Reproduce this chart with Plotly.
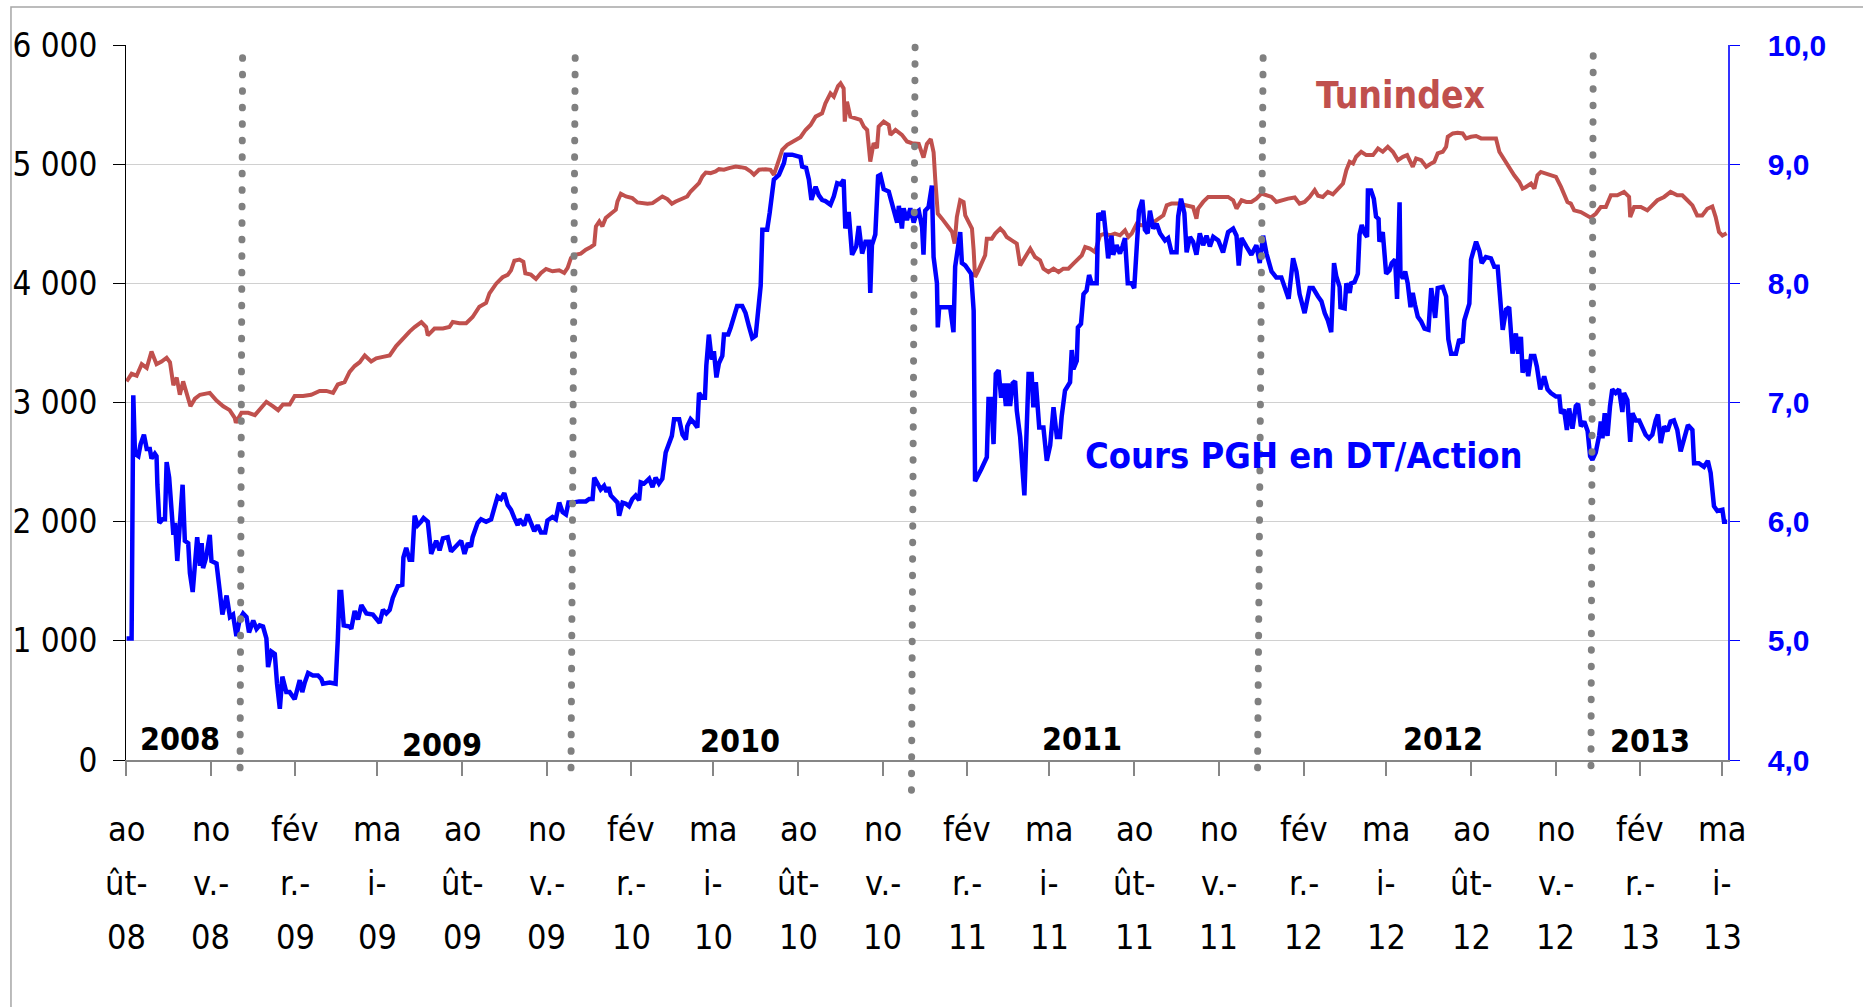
import pandas as pd
import plotly.graph_objects as go

# ---------------- data (x = months elapsed since 1 Aug 2008) ----------------
TUN_M = [0.02, 0.20, 0.38, 0.56, 0.74, 0.91, 1.09, 1.27, 1.45, 1.57, 1.69, 1.81, 1.92, 2.04, 2.16, 2.30,
         2.46, 2.64, 2.99, 3.23, 3.47, 3.70, 3.88, 3.92, 4.12, 4.36, 4.60, 4.83, 5.01, 5.25, 5.43, 5.60,
         5.84, 6.02, 6.32, 6.61, 6.91, 7.15, 7.39, 7.56, 7.80, 7.98, 8.16, 8.34, 8.52, 8.75, 8.93, 9.17,
         9.41, 9.64, 9.88, 10.12, 10.30, 10.54, 10.71, 10.77, 11.01, 11.31, 11.54, 11.66, 11.90, 12.14,
         12.37, 12.61, 12.85, 12.97, 13.21, 13.44, 13.62, 13.74, 13.86, 14.04, 14.18, 14.25, 14.45, 14.63,
         14.81, 14.99, 15.22, 15.46, 15.64, 15.76, 15.88, 16.06, 16.23, 16.41, 16.59, 16.71, 16.77, 16.89,
         17.00, 17.12, 17.30, 17.48, 17.54, 17.66, 17.84, 18.07, 18.25, 18.43, 18.61, 18.79, 18.96, 19.14,
         19.32, 19.48, 19.62, 19.86, 20.03, 20.15, 20.27, 20.45, 20.57, 20.69, 20.86, 21.04, 21.16, 21.34,
         21.52, 21.76, 21.93, 22.11, 22.29, 22.41, 22.59, 22.83, 23.00, 23.12, 23.30, 23.42, 23.60, 23.72,
         23.89, 24.07, 24.25, 24.43, 24.61, 24.84, 24.96, 25.14, 25.26, 25.41, 25.50, 25.61, 25.65, 25.73,
         25.85, 26.03, 26.21, 26.33, 26.45, 26.56, 26.68, 26.80, 26.86, 27.04, 27.22, 27.28, 27.46, 27.69,
         27.87, 28.05, 28.29, 28.46, 28.58, 28.72, 28.82, 28.88, 28.97, 29.12, 29.30, 29.48, 29.57, 29.65,
         29.77, 29.89, 29.95, 30.07, 30.19, 30.25, 30.30, 30.42, 30.54, 30.66, 30.72, 30.90, 31.02, 31.20,
         31.32, 31.43, 31.61, 31.79, 31.91, 32.09, 32.27, 32.44, 32.62, 32.74, 32.92, 33.10, 33.28, 33.45,
         33.63, 33.81, 33.99, 34.11, 34.23, 34.40, 34.58, 34.76, 34.94, 35.12, 35.29, 35.47, 35.65, 35.77,
         35.89, 36.07, 36.24, 36.48, 36.60, 36.78, 36.90, 37.02, 37.14, 37.31, 37.55, 37.79, 37.96, 38.08,
         38.20, 38.26, 38.44, 38.62, 38.86, 39.09, 39.33, 39.51, 39.63, 39.81, 39.98, 40.16, 40.34, 40.52,
         40.70, 40.88, 41.05, 41.23, 41.47, 41.71, 41.88, 42.06, 42.24, 42.42, 42.54, 42.71, 42.89, 43.07,
         43.25, 43.43, 43.55, 43.67, 43.79, 43.90, 44.08, 44.26, 44.50, 44.68, 44.85, 45.03, 45.21, 45.39,
         45.57, 45.72, 45.92, 46.04, 46.22, 46.40, 46.58, 46.69, 46.81, 46.99, 47.11, 47.17, 47.35, 47.52,
         47.70, 47.82, 48.00, 48.18, 48.36, 48.59, 48.89, 49.01, 49.19, 49.36, 49.54, 49.72, 49.84, 49.96,
         50.14, 50.26, 50.37, 50.49, 50.67, 50.85, 51.03, 51.21, 51.32, 51.44, 51.56, 51.68, 51.92, 52.16,
         52.27, 52.45, 52.63, 52.81, 52.99, 53.22, 53.46, 53.64, 53.68, 53.82, 54.06, 54.29, 54.47, 54.65,
         54.89, 55.12, 55.36, 55.54, 55.72, 55.90, 56.07, 56.25, 56.43, 56.61, 56.73, 56.85, 56.97, 57.12]
TUN_V = [3177, 3241, 3225, 3322, 3290, 3428, 3322, 3344, 3376, 3338, 3145, 3209, 3065, 3177, 3081, 2968,
         3032, 3065, 3081, 3016, 2968, 2936, 2871, 2830, 2913, 2913, 2894, 2952, 3006, 2968, 2936, 2984,
         2984, 3055, 3055, 3065, 3097, 3097, 3081, 3151, 3171, 3257, 3306, 3338, 3395, 3344, 3370, 3383,
         3395, 3473, 3537, 3595, 3633, 3675, 3633, 3563, 3621, 3621, 3633, 3675, 3665, 3665,
         3717, 3804, 3836, 3916, 3997, 4051, 4071, 4109, 4190, 4199, 4180, 4084, 4073, 4037,
         4087, 4121, 4101, 4110, 4087, 4129, 4213, 4241, 4249, 4283, 4305, 4325, 4478, 4520,
         4478, 4548, 4584, 4618, 4687, 4752, 4729, 4715, 4679, 4673, 4668, 4673, 4696, 4729,
         4707, 4668, 4687, 4707, 4729, 4771, 4799, 4841, 4897, 4930, 4925, 4939, 4958, 4953,
         4967, 4980, 4975, 4967, 4939, 4911, 4953, 4958, 4953, 4911, 5036, 5120, 5162, 5176,
         5204, 5226, 5287, 5329, 5399, 5427, 5511, 5595, 5567, 5656, 5678, 5636, 5357, 5525,
         5399, 5385, 5371, 5315, 5287, 5022, 5176, 5134, 5315, 5357, 5329, 5246, 5287, 5246,
         5190, 5176, 5170, 5055, 5170, 5210, 5100, 4870, 4585, 4543, 4487, 4431, 4333, 4557,
         4697, 4683, 4571, 4515, 4459, 4277, 4053, 4109, 4165, 4235, 4375, 4375, 4417, 4459,
         4431, 4389, 4361, 4333, 4151, 4221, 4291, 4221, 4193, 4123, 4095, 4123, 4095, 4123,
         4123, 4165, 4207, 4235, 4305, 4291, 4263, 4403, 4417, 4403, 4417, 4403, 4445, 4389,
         4417, 4501, 4487, 4487, 4501, 4529, 4543, 4571, 4655, 4669, 4669, 4655, 4641, 4641,
         4543, 4627, 4683, 4725, 4725, 4725, 4725, 4697, 4627, 4697, 4683, 4683, 4711, 4753,
         4739, 4725, 4683, 4697, 4711, 4720, 4669, 4683, 4725, 4782, 4735, 4725, 4767, 4747,
         4795, 4837, 4949, 5020, 5006, 5062, 5104, 5076, 5076, 5132, 5104, 5146, 5104, 5034,
         5062, 5076, 4978, 5048, 5034, 4978, 5006, 5020, 5090, 5104, 5146, 5230, 5258, 5264,
         5258, 5216, 5230, 5236, 5216, 5216, 5216, 5104, 5034, 4978, 4907, 4851, 4795, 4809,
         4837, 4795, 4907, 4935, 4921, 4907, 4893, 4809, 4753, 4683, 4669, 4612, 4598, 4570,
         4551, 4584, 4640, 4640, 4739, 4739, 4767, 4725, 4556, 4640, 4640, 4612, 4654, 4697,
         4725, 4767, 4739, 4739, 4697, 4654, 4570, 4570, 4626, 4645, 4556, 4430, 4402, 4421]

PGH_M = [0.02, 0.20, 0.26, 0.32, 0.44, 0.52, 0.64, 0.74, 0.85, 0.91, 1.03, 1.09, 1.12, 1.19, 1.31, 1.39,
         1.45, 1.54, 1.69, 1.75, 1.83, 1.92, 2.02, 2.10, 2.22, 2.28, 2.38, 2.54, 2.64, 2.70, 2.75, 2.85,
         2.99, 3.05, 3.23, 3.35, 3.44, 3.59, 3.71, 3.82, 3.94, 4.06, 4.18, 4.30, 4.39, 4.54, 4.66, 4.77,
         4.89, 5.01, 5.07, 5.19, 5.31, 5.39, 5.49, 5.58, 5.72, 5.84, 6.02, 6.20, 6.29, 6.38, 6.50, 6.67,
         6.85, 6.97, 7.03, 7.27, 7.48, 7.56, 7.62, 7.68, 7.77, 7.98, 8.04, 8.16, 8.28, 8.40, 8.58, 8.81,
         9.05, 9.17, 9.29, 9.41, 9.52, 9.70, 9.86, 9.90, 10.00, 10.12, 10.21, 10.30, 10.41, 10.53, 10.62,
         10.77, 10.89, 11.07, 11.19, 11.31, 11.48, 11.60, 11.78, 11.96, 12.08, 12.20, 12.31, 12.37, 12.55,
         12.67, 12.85, 13.03, 13.15, 13.26, 13.38, 13.50, 13.62, 13.74, 13.86, 13.98, 14.04, 14.21, 14.33,
         14.45, 14.57, 14.69, 14.81, 14.96, 15.04, 15.22, 15.34, 15.46, 15.58, 15.70, 15.79, 15.94, 16.17,
         16.41, 16.53, 16.65, 16.71, 16.83, 16.94, 17.06, 17.15, 17.22, 17.30, 17.42, 17.54, 17.60, 17.72,
         17.84, 17.95, 18.07, 18.19, 18.31, 18.37, 18.49, 18.67, 18.79, 18.90, 19.02, 19.14, 19.26, 19.38,
         19.48, 19.56, 19.74, 19.86, 19.98, 20.03, 20.15, 20.27, 20.39, 20.45, 20.57, 20.66, 20.71, 20.80,
         20.90, 20.98, 21.07, 21.16, 21.28, 21.34, 21.49, 21.58, 21.70, 21.81, 21.99, 22.11, 22.23, 22.35,
         22.47, 22.56, 22.65, 22.71, 22.88, 22.97, 23.12, 23.30, 23.48, 23.54, 23.77, 24.07, 24.13, 24.27,
         24.37, 24.46, 24.61, 24.72, 24.84, 24.96, 25.14, 25.26, 25.38, 25.50, 25.61, 25.67, 25.79, 25.91,
         26.06, 26.15, 26.27, 26.39, 26.51, 26.56, 26.62, 26.74, 26.84, 26.92, 27.04, 27.22, 27.34, 27.52,
         27.58, 27.69, 27.75, 27.87, 27.99, 28.11, 28.23, 28.29, 28.41, 28.46, 28.52, 28.64, 28.76, 28.82,
         28.94, 28.97, 29.02, 29.41, 29.53, 29.59, 29.77, 29.83, 29.95, 30.07, 30.16, 30.25, 30.27, 30.30,
         30.52, 30.72, 30.78, 30.88, 30.96, 31.04, 31.14, 31.23, 31.32, 31.40, 31.47, 31.55, 31.64, 31.73,
         31.79, 31.91, 32.06, 32.21, 32.32, 32.38, 32.47, 32.59, 32.74, 32.86, 32.98, 33.10, 33.22, 33.33,
         33.39, 33.51, 33.69, 33.75, 33.81, 33.93, 33.97, 34.08, 34.17, 34.28, 34.37, 34.46, 34.64, 34.70,
         34.82, 34.88, 34.99, 35.05, 35.17, 35.23, 35.35, 35.47, 35.56, 35.65, 35.75, 35.89, 35.98, 36.07,
         36.15, 36.27, 36.36, 36.46, 36.54, 36.66, 36.78, 36.90, 37.08, 37.19, 37.31, 37.49, 37.55, 37.65,
         37.77, 37.85, 37.97, 38.08, 38.20, 38.32, 38.44, 38.56, 38.68, 38.80, 38.98, 39.15, 39.33, 39.51,
         39.63, 39.71, 39.81, 39.98, 40.16, 40.34, 40.46, 40.58, 40.70, 40.88, 41.05, 41.23, 41.35, 41.49,
         41.65, 41.77, 41.88, 42.06, 42.24, 42.36, 42.54, 42.66, 42.78, 42.89, 43.01, 43.11, 43.19, 43.31,
         43.34, 43.49, 43.55, 43.67, 43.72, 43.84, 43.96, 44.02, 44.10, 44.20, 44.29, 44.32, 44.43, 44.53,
         44.61, 44.70, 44.73, 44.85, 44.97, 45.09, 45.17, 45.29, 45.36, 45.45, 45.48, 45.57, 45.65, 45.74,
         45.84, 45.92, 46.00, 46.10, 46.22, 46.34, 46.48, 46.58, 46.72, 46.81, 46.99, 47.11, 47.19, 47.29,
         47.46, 47.58, 47.70, 47.76, 47.94, 48.00, 48.18, 48.30, 48.38, 48.53, 48.71, 48.83, 48.95, 49.01,
         49.07, 49.13, 49.25, 49.36, 49.48, 49.60, 49.68, 49.78, 49.84, 49.96, 50.04, 50.14, 50.26, 50.35,
         50.47, 50.61, 50.73, 50.85, 51.03, 51.15, 51.21, 51.32, 51.42, 51.50, 51.62, 51.74, 51.82, 51.92,
         52.04, 52.16, 52.25, 52.33, 52.45, 52.57, 52.63, 52.69, 52.77, 52.87, 52.96, 53.04, 53.16, 53.28,
         53.40, 53.46, 53.58, 53.68, 53.76, 53.88, 54.00, 54.12, 54.23, 54.35, 54.47, 54.59, 54.67, 54.77,
         54.89, 55.01, 55.12, 55.24, 55.36, 55.48, 55.60, 55.74, 55.90, 55.96, 56.13, 56.31, 56.45, 56.55,
         56.67, 56.79, 56.97, 57.03, 57.14]
PGH_V = [5.02, 5.02, 7.06, 6.57, 6.55, 6.65, 6.73, 6.61, 6.61, 6.53, 6.57, 6.55, 6.31, 5.99, 6.02, 6.02,
         6.50, 6.37, 5.89, 5.99, 5.67, 5.99, 6.31, 5.84, 5.82, 5.57, 5.41, 5.87, 5.63, 5.82, 5.61, 5.69,
         5.89, 5.67, 5.65, 5.41, 5.22, 5.38, 5.20, 5.22, 5.04, 5.18, 5.23, 5.20, 5.07, 5.17, 5.10, 5.13,
         5.12, 5.02, 4.78, 4.91, 4.89, 4.64, 4.43, 4.70, 4.57, 4.57, 4.51, 4.67, 4.57, 4.65, 4.73, 4.71,
         4.71, 4.68, 4.64, 4.65, 4.64, 5.02, 5.41, 5.41, 5.13, 5.12, 5.10, 5.25, 5.18, 5.30, 5.23, 5.22,
         5.15, 5.26, 5.23, 5.26, 5.36, 5.46, 5.47, 5.70, 5.78, 5.68, 5.68, 6.05, 5.97, 6.00, 6.03,
         6.00, 5.73, 5.84, 5.76, 5.86, 5.87, 5.75, 5.80, 5.84, 5.73, 5.82, 5.79, 5.87, 5.99,
         6.02, 6.00, 6.02, 6.12, 6.21, 6.19, 6.24, 6.14, 6.10, 6.03, 5.97, 6.02, 5.97, 6.06,
         5.99, 5.92, 5.97, 5.91, 5.91, 6.01, 6.04, 6.02, 6.16, 6.08, 6.06, 6.16, 6.16, 6.17,
         6.17, 6.19, 6.19, 6.37, 6.32, 6.27, 6.30, 6.25, 6.29, 6.22, 6.19, 6.16, 6.05, 6.16,
         6.15, 6.13, 6.19, 6.22, 6.18, 6.33, 6.32, 6.36, 6.29, 6.37, 6.32, 6.36, 6.58, 6.66,
         6.72, 6.86, 6.86, 6.73, 6.69, 6.80, 6.86, 6.83, 6.79, 7.08, 7.04, 7.04, 7.31, 7.57,
         7.36, 7.43, 7.21, 7.33, 7.39, 7.57, 7.57, 7.63, 7.72, 7.81, 7.81, 7.75, 7.64, 7.54,
         7.56, 7.75, 7.98, 8.45, 8.45, 8.59, 8.87, 8.91, 9.01, 9.08, 9.08, 9.06, 8.98, 8.97,
         8.87, 8.70, 8.81, 8.74, 8.70, 8.69, 8.66, 8.73, 8.84, 8.83, 8.87, 8.46, 8.60, 8.24,
         8.31, 8.48, 8.25, 8.35, 8.35, 7.92, 8.32, 8.41, 8.90, 8.91, 8.79, 8.77, 8.65, 8.51,
         8.65, 8.46, 8.63, 8.53, 8.63, 8.51, 8.60, 8.61, 8.47, 8.24, 8.61, 8.64, 8.82, 8.22,
         8.00, 7.63, 7.80, 7.80, 7.59, 8.14, 8.43, 8.17, 8.15, 8.11, 8.08, 7.77, 7.38, 6.34,
         6.44, 6.54, 7.03, 7.03, 6.65, 7.24, 7.27, 7.04, 7.16, 6.97, 7.16, 6.97, 7.16, 7.18,
         6.93, 6.71, 6.22, 7.24, 7.24, 6.96, 7.17, 6.79, 6.79, 6.51, 6.64, 6.96, 6.71, 6.71,
         6.88, 7.10, 7.17, 7.44, 7.28, 7.35, 7.63, 7.66, 7.91, 7.94, 8.07, 8.00, 8.00, 8.59,
         8.53, 8.61, 8.36, 8.21, 8.40, 8.24, 8.32, 8.25, 8.31, 8.38, 8.00, 8.00, 7.96, 8.25,
         8.61, 8.70, 8.45, 8.42, 8.61, 8.46, 8.50, 8.42, 8.36, 8.38, 8.26, 8.26, 8.56, 8.71,
         8.59, 8.26, 8.39, 8.35, 8.24, 8.42, 8.32, 8.40, 8.31, 8.39, 8.36, 8.26, 8.43, 8.46,
         8.40, 8.15, 8.38, 8.31, 8.24, 8.32, 8.17, 8.40, 8.25, 8.10, 8.05, 8.05, 7.96, 7.87,
         8.21, 8.10, 7.91, 7.75, 7.96, 7.96, 7.89, 7.85, 7.75, 7.69, 7.59, 8.17, 8.06, 7.97,
         7.80, 7.79, 8.00, 7.92, 8.00, 8.01, 8.08, 8.41, 8.49, 8.42, 8.39, 8.78, 8.78, 8.71,
         8.56, 8.54, 8.35, 8.43, 8.08, 8.11, 8.17, 8.20, 7.87, 8.68, 8.08, 8.04, 8.10, 8.00,
         7.80, 7.92, 7.82, 7.72, 7.68, 7.62, 7.61, 7.96, 7.71, 7.96, 7.97, 7.89, 7.53, 7.41,
         7.41, 7.53, 7.50, 7.69, 7.83, 8.20, 8.35, 8.27, 8.17, 8.22, 8.21, 8.14, 8.14, 7.92,
         7.72, 7.61, 7.78, 7.80, 7.41, 7.58, 7.41, 7.55, 7.25, 7.36, 7.22, 7.39, 7.39, 7.30,
         7.11, 7.22, 7.11, 7.08, 7.05, 7.05, 6.91, 6.94, 6.77, 6.95, 6.78, 6.97, 6.99, 6.80,
         6.84, 6.76, 6.55, 6.52, 6.58, 6.72, 6.84, 6.70, 6.91, 6.72, 6.97, 7.11, 7.08, 7.11,
         6.92, 7.08, 7.02, 6.67, 6.91, 6.85, 6.85, 6.78, 6.73, 6.70, 6.73, 6.85, 6.90, 6.66,
         6.80, 6.76, 6.84, 6.85, 6.77, 6.59, 6.69, 6.81, 6.77, 6.49, 6.49, 6.46, 6.51, 6.41,
         6.13, 6.09, 6.10, 6.00, 6.00]

TICK_DATES = ["2008-08-01", "2008-11-01", "2009-02-01", "2009-05-01", "2009-08-01", "2009-11-01",
              "2010-02-01", "2010-05-01", "2010-08-01", "2010-11-01", "2011-02-01", "2011-05-01",
              "2011-08-01", "2011-11-01", "2012-02-01", "2012-05-01", "2012-08-01", "2012-11-01",
              "2013-02-01", "2013-05-01"]
TICK_TEXT = ["août-08", "nov.-08", "févr.-09", "mai-09", "août-09", "nov.-09", "févr.-10", "mai-10",
             "août-10", "nov.-10", "févr.-11", "mai-11", "août-11", "nov.-11", "févr.-12", "mai-12",
             "août-12", "nov.-12", "févr.-13", "mai-13"]
# how the narrow Excel column wraps each label
WRAP = {"août": ("ao", "ût-"), "nov.": ("no", "v.-"), "févr.": ("fév", "r.-"), "mai": ("ma", "i-")}

YEAR_TEXT = ["2008", "2009", "2010", "2011", "2012", "2013"]
YEAR_DATES = ["2008-09-29", "2009-07-10", "2010-05-30", "2011-06-05", "2012-07-01", "2013-02-11"]
YEAR_Y = [176, 126, 159, 176, 176, 159]

# year separators (months since Aug 2008, top / bottom of the hand-drawn dotted line)
SEP_TOP_M = [4.16, 16.03, 28.16, 40.58, 52.36]
SEP_BOT_M = [4.07, 15.88, 28.03, 40.38, 52.28]

LEFT_TICKS = [0, 1000, 2000, 3000, 4000, 5000, 6000]
RIGHT_TICKS = [4, 5, 6, 7, 8, 9, 10]

# ---------------- helpers ----------------
BASE = pd.Timestamp("2008-08-01")


def to_date(m):
    return BASE + pd.Timedelta(days=m * 30.437)


def to_dates(ms):
    return [to_date(m) for m in ms]


NARROW = "Liberation Sans Narrow, Arial Narrow, DejaVu Sans Condensed, sans-serif"
SANS = "Liberation Sans, Arial, sans-serif"
RED = "#C0504D"
BLUE = "#0000FF"

fig = go.Figure()
fig.add_trace(go.Scatter(x=to_dates(TUN_M), y=TUN_V, mode="lines", name="Tunindex",
                         line=dict(color=RED, width=4), yaxis="y"))
fig.add_trace(go.Scatter(x=to_dates(PGH_M), y=PGH_V, mode="lines", name="Cours PGH en DT/Action",
                         line=dict(color=BLUE, width=4.5), yaxis="y2"))

shapes = []
# outer chart frame
shapes.append(dict(type="rect", xref="paper", yref="paper", x0=-0.0718, x1=1.3, y0=-0.6, y1=1.053,
                   line=dict(color="#A6A6A6", width=1.5), fillcolor="rgba(0,0,0,0)", layer="below"))
sep_top = [0.982, 0.982, 0.997, 0.982, 0.985]
sep_bot = [-0.02, -0.02, -0.05, -0.02, -0.015]
for mt, mb, yt, yb in zip(SEP_TOP_M, SEP_BOT_M, sep_top, sep_bot):
    shapes.append(dict(type="line", xref="x", yref="paper", x0=to_date(mt), x1=to_date(mb),
                       y0=yt, y1=yb, line=dict(color="#808080", width=7, dash="0.5px,16px")))

annotations = []
line_y = [-0.0965, -0.1720, -0.2476]
for d, t in zip(TICK_DATES, TICK_TEXT):
    month, yr = t.rsplit("-", 1)
    parts = list(WRAP[month]) + [yr]
    for j, p in enumerate(parts):
        annotations.append(dict(x=d, xref="x", y=line_y[j], yref="paper", text=p, showarrow=False,
                                xanchor="center", yanchor="middle",
                                font=dict(family=NARROW, size=34, color="black")))
for t, d, yv in zip(YEAR_TEXT, YEAR_DATES, YEAR_Y):
    annotations.append(dict(x=d, xref="x", y=yv, yref="y", text=t, showarrow=False,
                            xanchor="center", yanchor="middle",
                            font=dict(family=NARROW, size=32, color="black", weight="bold")))
annotations.append(dict(x="2012-05-16", xref="x", y=5580, yref="y", text="Tunindex", showarrow=False,
                        xanchor="center", yanchor="middle",
                        font=dict(family=NARROW, size=37, color=RED, weight="bold")))
annotations.append(dict(x="2012-02-02", xref="x", y=2559, yref="y", text="Cours PGH en DT/Action",
                        showarrow=False, xanchor="center", yanchor="middle",
                        font=dict(family=NARROW, size=36, color=BLUE, weight="bold")))

fig.update_layout(
    width=1863, height=1007, autosize=False,
    margin=dict(l=126, r=135, t=45, b=247, pad=0),
    paper_bgcolor="white", plot_bgcolor="white",
    separators=", ",
    showlegend=False,
    shapes=shapes,
    annotations=annotations,
    xaxis=dict(type="date", range=[to_date(0), to_date(57.17)], tickvals=TICK_DATES,
               showticklabels=False, ticks="outside", ticklen=14, tickwidth=1.5, tickcolor="#868686",
               showline=True, linecolor="#868686", linewidth=2, showgrid=False, zeroline=False,
               automargin=False),
    yaxis=dict(range=[0, 6000], tickvals=LEFT_TICKS, tickformat=",d", showline=True,
               linecolor="black", linewidth=1, ticks="outside", ticklen=12, tickcolor="black",
               showgrid=True, gridcolor="#D0D0D0", gridwidth=1, zeroline=False,
               ticklabelstandoff=9, automargin=False,
               tickfont=dict(family=NARROW, size=33, color="black")),
    yaxis2=dict(range=[4, 10], tickvals=RIGHT_TICKS, tickformat=".1f", overlaying="y", side="right",
                showline=True, linecolor="#3333FF", linewidth=1.5, ticks="outside", ticklen=10,
                tickcolor=BLUE, showgrid=False, zeroline=False, ticklabelstandoff=22, automargin=False,
                tickfont=dict(family=SANS, size=30, color=BLUE, weight="bold")),
    # inner half of the crossing tick marks on the right axis
    yaxis3=dict(range=[4, 10], tickvals=RIGHT_TICKS, overlaying="y", side="right",
                showline=False, ticks="inside", ticklen=10, tickcolor=BLUE, showticklabels=False,
                showgrid=False, zeroline=False, automargin=False),
)

ROUND_DOTS = ("document.body.style.margin='0';"
              "document.querySelectorAll('.shapelayer path').forEach(function(p){"
              "if(p.style.strokeDasharray && p.style.strokeDasharray!=='none'){"
              "p.style.strokeLinecap='round';}});")

fig.write_html("out.html", config={"displayModeBar": False}, post_script=ROUND_DOTS)
